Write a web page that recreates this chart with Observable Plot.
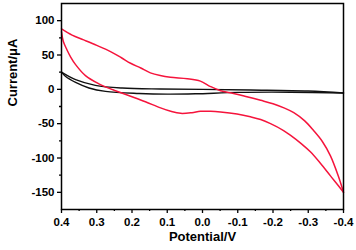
<!DOCTYPE html>
<html><head><meta charset="utf-8">
<script src="https://cdn.jsdelivr.net/npm/d3@7"></script>
<script src="https://cdn.jsdelivr.net/npm/@observablehq/plot@0.6"></script>
<style>body{margin:0;background:#fff}</style>
</head><body><div id="chart"></div>
<script>
// Red CV: cathodic sweep (0.4 -> -0.4) and anodic sweep (-0.4 -> 0.4)
const redCathV = [0.4, 0.395, 0.385, 0.374, 0.36, 0.332, 0.294, 0.27, 0.247, 0.204, 0.162, 0.119, 0.09, 0.062, 0.03, 0.006, -0.023, -0.051, -0.098, -0.136, -0.165, -0.193, -0.23, -0.25, -0.28, -0.306, -0.335, -0.363, -0.385, -0.4];
const redCathI = [84, 70, 58, 47, 36, 20, 8, 2.5, -2, -10, -18, -27, -32, -35, -34, -32, -32, -33, -36, -40, -44, -50, -60, -67, -79, -91, -108, -126, -140, -150];
const redAnodV = [-0.4, -0.385, -0.363, -0.34, -0.315, -0.29, -0.259, -0.231, -0.2, -0.165, -0.12, -0.088, -0.051, -0.023, 0.006, 0.043, 0.091, 0.12, 0.148, 0.175, 0.204, 0.23, 0.261, 0.3, 0.337, 0.37, 0.4];
const redAnodI = [-150, -126, -97, -76, -60, -46, -34, -27, -21, -16, -10, -6, -2, 4, 12, 15.5, 17.5, 20, 24, 31, 38, 46, 55, 64, 72, 79, 88];
// Black CV
const blackUpV = [0.4, 0.36, 0.304, 0.228, 0.12, 0.0, -0.136, -0.3, -0.4];
const blackUpI = [25, 14, 5.8, 1.9, 0.5, 0, -1, -2.5, -5.3];
const blackLoV = [0.4, 0.389, 0.36, 0.322, 0.275, 0.18, 0.1, 0.02, -0.1, -0.25, -0.4];
const blackLoI = [25, 19, 10, 2, -3, -6, -7, -6.5, -4.5, -4.2, -5.3];
// Ticks
const xTicks = [0.4, 0.3, 0.2, 0.1, 0.0, -0.1, -0.2, -0.3, -0.4];
const xMinor = [0.35, 0.25, 0.15, 0.05, -0.05, -0.15, -0.25, -0.35];
const yTicks = [100, 50, 0, -50, -100, -150];
const yMinor = [75, 25, -25, -75, -125];

const rows = (V, I, b) => V.map((v, k) => ({v, i: I[k], b}));
const red = [...rows(redCathV, redCathI, "c"), ...rows(redAnodV, redAnodI, "a")];
const black = [...rows(blackUpV, blackUpI, "u"), ...rows(blackLoV, blackLoI, "l")];

const chart = Plot.plot({
  width: 356, height: 250,
  marginLeft: 61, marginRight: 13, marginTop: 3, marginBottom: 41,
  style: {fontFamily: "'Liberation Sans', Arial, sans-serif", fontWeight: "bold", fontSize: "11px", background: "#fff", color: "#000"},
  x: {domain: [0.4, -0.4]},
  y: {domain: [-175, 125]},
  marks: [
    Plot.line(black, {x: "v", y: "i", z: "b", stroke: "#111", strokeWidth: 1.4, curve: "catmull-rom"}),
    Plot.line(red, {x: "v", y: "i", z: "b", stroke: "#f5143c", strokeWidth: 1.5, curve: "catmull-rom"}),
    Plot.frame({stroke: "#000", strokeWidth: 1.5}),
    Plot.axisX({ticks: xMinor, tickSize: 2, strokeWidth: 1.3, tickFormat: () => "", label: null}),
    Plot.axisX({ticks: xTicks, tickSize: 4, strokeWidth: 1.3, tickPadding: 4, tickFormat: d => d.toFixed(1), label: null, fontSize: 11.5}),
    Plot.axisY({ticks: yMinor, tickSize: 2, strokeWidth: 1.3, tickFormat: () => "", label: null}),
    Plot.axisY({ticks: yTicks, tickSize: 4, strokeWidth: 1.3, tickPadding: 3, tickFormat: d => String(d), label: null, fontSize: 11.5}),
    Plot.text(["Potential/V"], {frameAnchor: "bottom", dy: 31, fontSize: 13, fontWeight: "bold"}),
    Plot.text(["Current/\u03bcA"], {frameAnchor: "left", rotate: -90, dx: -49, fontSize: 13, fontWeight: "bold"})
  ]
});
document.getElementById("chart").append(chart);
</script>
</body></html>
